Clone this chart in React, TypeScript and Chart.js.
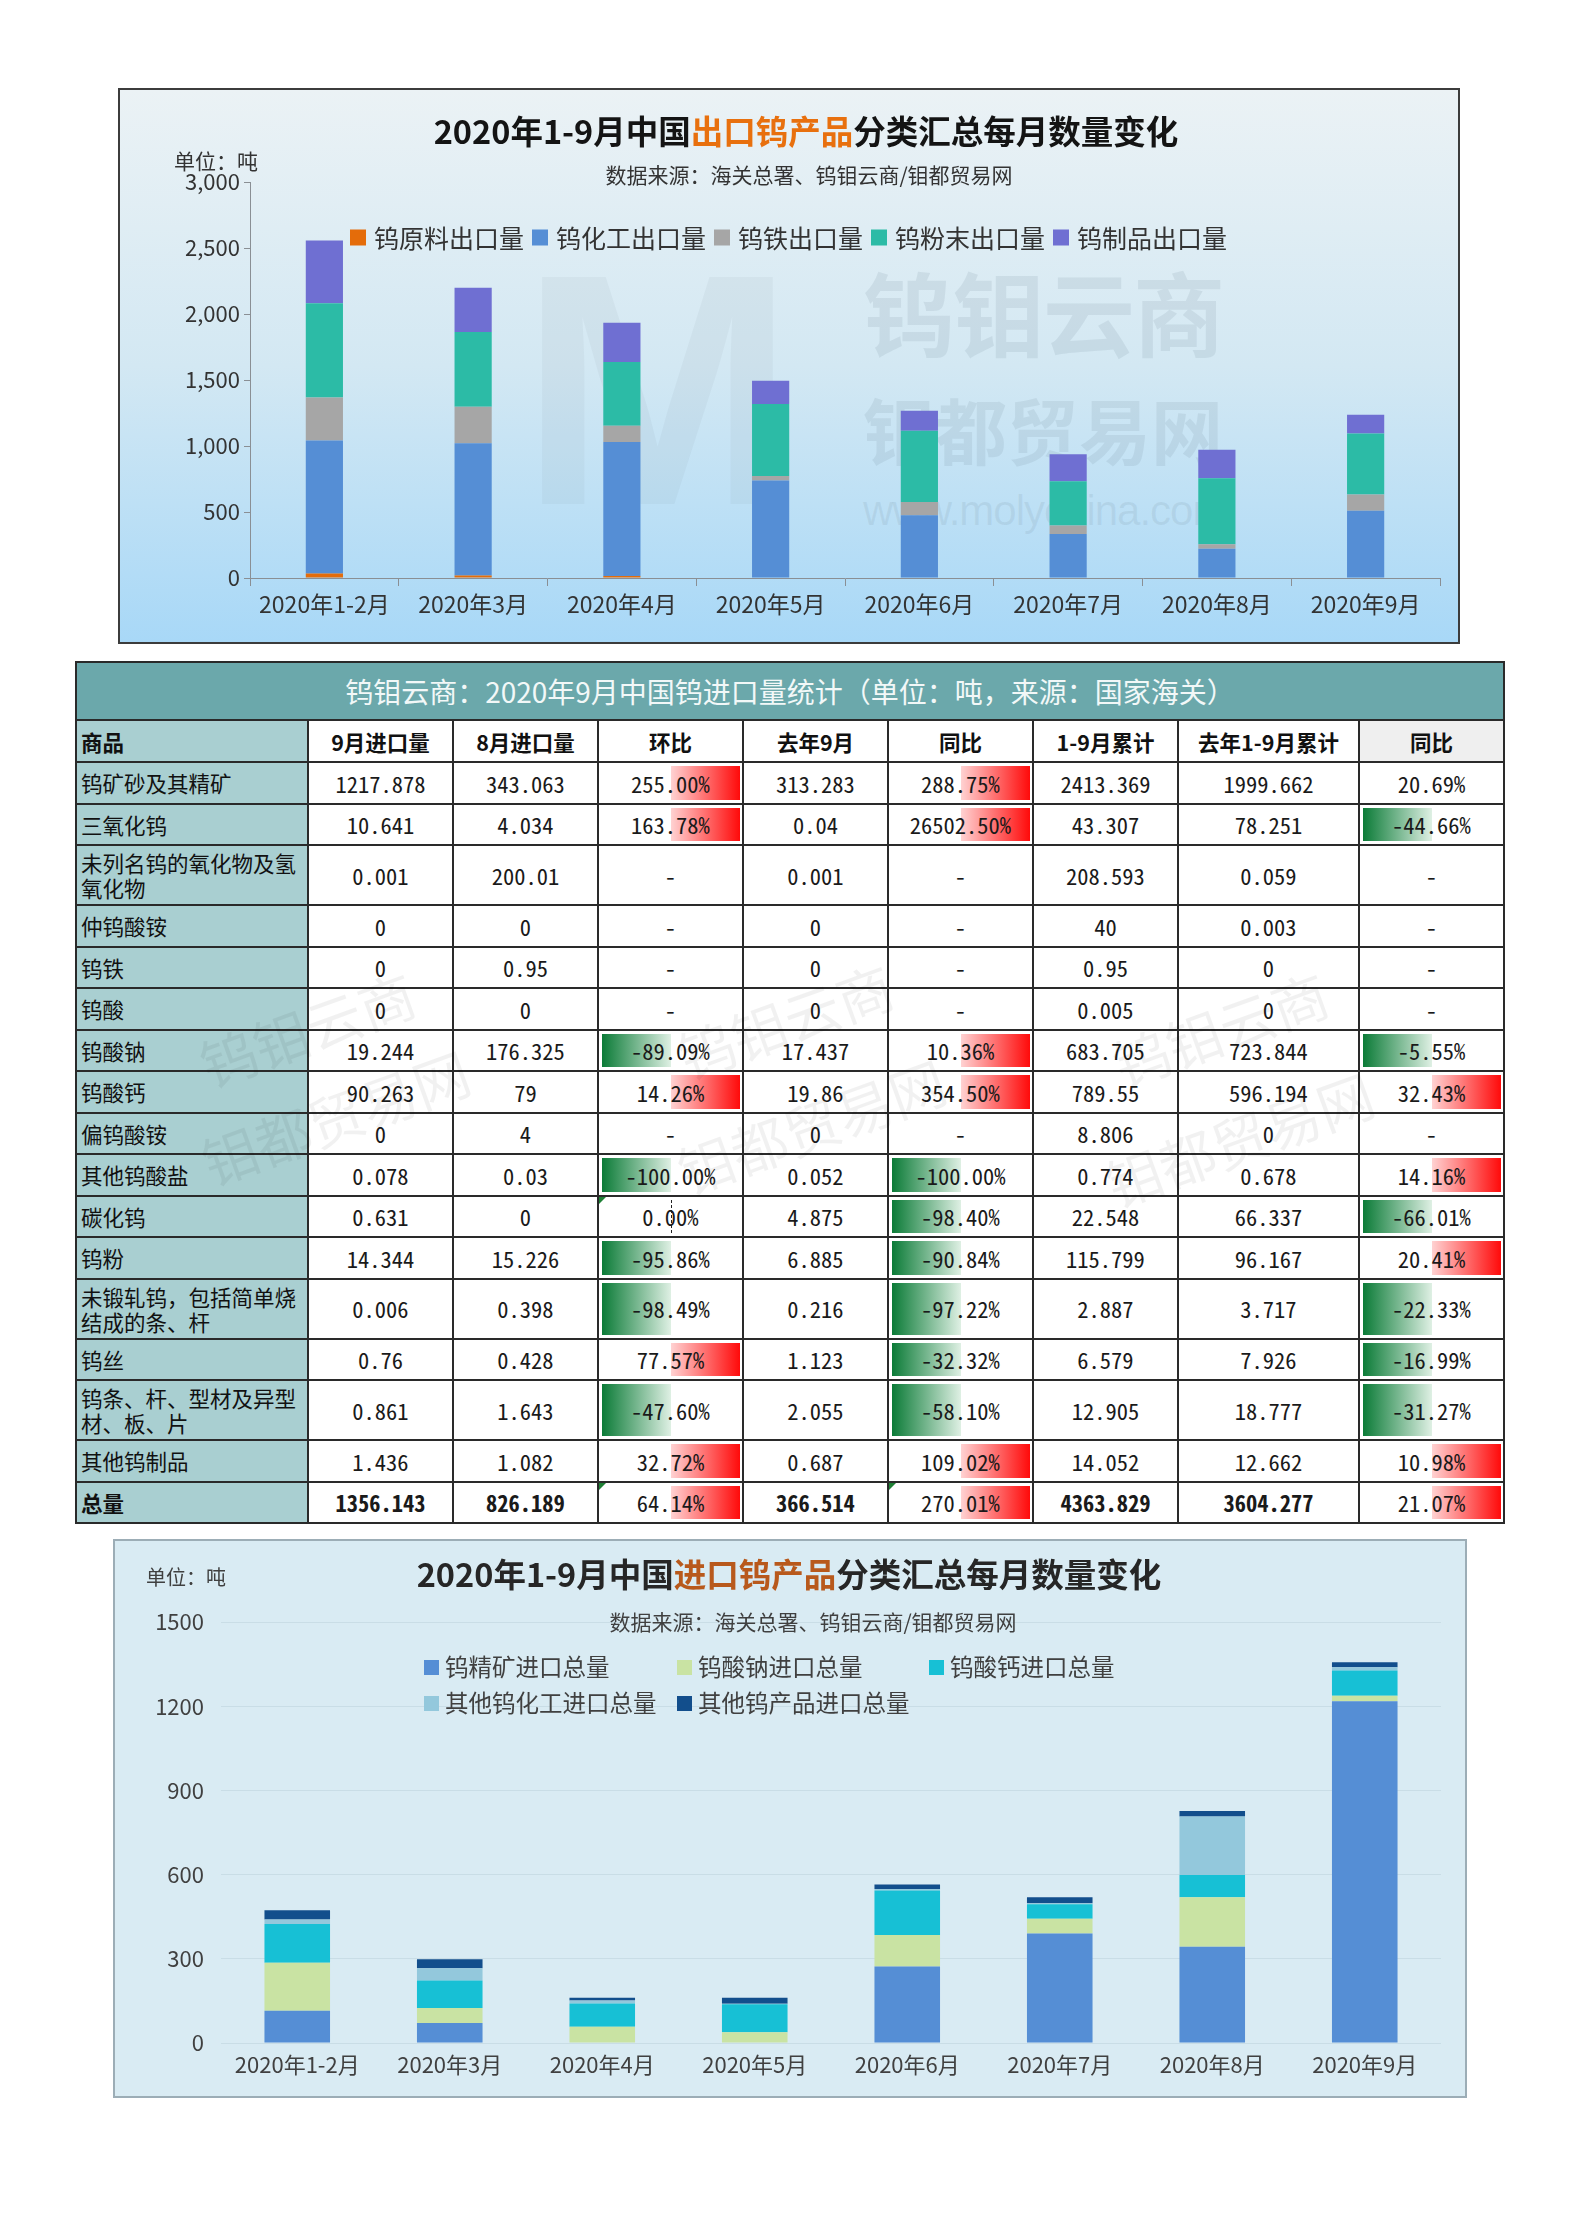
import React, { useEffect, useRef } from 'react';
import { Chart, registerables } from 'chart.js';

Chart.register(...registerables);

const CJK = '"Noto Sans CJK SC", "Noto Sans", sans-serif';
const MONO = '"Noto Sans Mono CJK SC", "Liberation Mono", monospace';
Chart.defaults.font.family = CJK;

// ---------- export chart data ----------
const exportMonths = ['2020年1-2月', '2020年3月', '2020年4月', '2020年5月', '2020年6月', '2020年7月', '2020年8月', '2020年9月'];
const exportRawMaterial = [34, 18, 16, 0, 0, 0, 0, 0];
const exportChemicals = [1007, 1003, 1014, 739, 476, 333, 221, 509];
const exportFerroTungsten = [327, 277, 123, 33, 100, 64, 34, 123];
const exportPowder = [714, 565, 484, 546, 540, 336, 500, 462];
const exportProducts = [475, 336, 296, 176, 151, 204, 216, 143];
const exportSeriesNames = ['钨原料出口量', '钨化工出口量', '钨铁出口量', '钨粉末出口量', '钨制品出口量'];
const exportColors = ['#e46c0a', '#558ed5', '#a6a6a6', '#2cbba6', '#6f6fd2'];
const exportYTicks = [0, 500, 1000, 1500, 2000, 2500, 3000];

// ---------- import chart data ----------
const importMonths = ['2020年1-2月', '2020年3月', '2020年4月', '2020年5月', '2020年6月', '2020年7月', '2020年8月', '2020年9月'];
const importConcentrate = [115, 71, 0, 0, 273, 390, 343.063, 1217.878];
const importSodium = [171, 54, 58, 38, 112, 53, 176.325, 19.244];
const importCalcium = [138, 98, 83, 100, 158, 51, 79, 90.263];
const importOtherChem = [16, 43, 10, 2, 6, 4, 209, 11.4];
const importOtherProducts = [33, 32, 10, 21, 16, 21, 18.8, 17.4];
const importSeriesNames = ['钨精矿进口总量', '钨酸钠进口总量', '钨酸钙进口总量', '其他钨化工进口总量', '其他钨产品进口总量'];
const importColors = ['#558ed5', '#c9e3a3', '#17c0d5', '#93c8dc', '#124e8c'];
const importYTicks = [0, 300, 600, 900, 1200, 1500];

// ---------- table data ----------
const tableTitle = '钨钼云商：2020年9月中国钨进口量统计（单位：吨，来源：国家海关）';
const tableHeaders = ['商品', '9月进口量', '8月进口量', '环比', '去年9月', '同比', '1-9月累计', '去年1-9月累计', '同比'];
const tableNames = ['钨矿砂及其精矿', '三氧化钨', '未列名钨的氧化物及氢\n氧化物', '仲钨酸铵', '钨铁', '钨酸', '钨酸钠', '钨酸钙', '偏钨酸铵', '其他钨酸盐', '碳化钨', '钨粉', '未锻轧钨，包括简单烧\n结成的条、杆', '钨丝', '钨条、杆、型材及异型\n材、板、片', '其他钨制品', '总量'];
const sepImport = ['1217.878', '10.641', '0.001', '0', '0', '0', '19.244', '90.263', '0', '0.078', '0.631', '14.344', '0.006', '0.76', '0.861', '1.436', '1356.143'];
const augImport = ['343.063', '4.034', '200.01', '0', '0.95', '0', '176.325', '79', '4', '0.03', '0', '15.226', '0.398', '0.428', '1.643', '1.082', '826.189'];
const momChange = ['255.00%', '163.78%', '-', '-', '-', '-', '-89.09%', '14.26%', '-', '-100.00%', '0.00%', '-95.86%', '-98.49%', '77.57%', '-47.60%', '32.72%', '64.14%'];
const lastSepImport = ['313.283', '0.04', '0.001', '0', '0', '0', '17.437', '19.86', '0', '0.052', '4.875', '6.885', '0.216', '1.123', '2.055', '0.687', '366.514'];
const yoyChange = ['288.75%', '26502.50%', '-', '-', '-', '-', '10.36%', '354.50%', '-', '-100.00%', '-98.40%', '-90.84%', '-97.22%', '-32.32%', '-58.10%', '109.02%', '270.01%'];
const ytdImport = ['2413.369', '43.307', '208.593', '40', '0.95', '0.005', '683.705', '789.55', '8.806', '0.774', '22.548', '115.799', '2.887', '6.579', '12.905', '14.052', '4363.829'];
const lastYtdImport = ['1999.662', '78.251', '0.059', '0.003', '0', '0', '723.844', '596.194', '0', '0.678', '66.337', '96.167', '3.717', '7.926', '18.777', '12.662', '3604.277'];
const ytdYoyChange = ['20.69%', '-44.66%', '-', '-', '-', '-', '-5.55%', '32.43%', '-', '14.16%', '-66.01%', '20.41%', '-22.33%', '-16.99%', '-31.27%', '10.98%', '21.07%'];
const plainPctCells = [[0, 8]];
const flaggedCells = [[10, 3], [16, 3], [16, 5]];
const tableWatermarks = ['钨钼云商', '钼都贸易网'];

type TxtProps = { x: number; y: number; size: number; color: string; weight?: number; align?: string; children: any; family?: string; extra?: any; rotate?: number };
function Txt({ x, y, size, color, weight = 400, align = 'center', children, family = CJK, extra = {}, rotate = 0 }: TxtProps) {
  return (
    <div
      style={{
        position: 'absolute', left: x, top: y,
        transform: (align === 'center' ? 'translate(-50%,-50%)' : 'translate(0,-50%)') + (rotate ? ` rotate(${rotate}deg)` : ''),
        fontFamily: family, fontSize: size, fontWeight: weight, color, whiteSpace: 'nowrap', lineHeight: 1, pointerEvents: 'none', ...extra,
      }}
    >
      {children}
    </div>
  );
}

function Legend({ names, colors, box, gap, size, color }: any) {
  return names.map((n: string, i: number) => (
    <div key={n} style={{ display: 'flex', alignItems: 'center' }}>
      <span style={{ display: 'inline-block', width: box, height: box, background: colors[i], marginRight: gap }} />
      <span style={{ fontFamily: CJK, fontSize: size, color, lineHeight: 1, whiteSpace: 'nowrap' }}>{n}</span>
    </div>
  ));
}

function ExportChart() {
  const ref = useRef<HTMLCanvasElement>(null);
  useEffect(() => {
    const series = [exportRawMaterial, exportChemicals, exportFerroTungsten, exportPowder, exportProducts];
    const chart = new Chart(ref.current as HTMLCanvasElement, {
      type: 'bar',
      data: {
        labels: exportMonths,
        datasets: series.map((d, i) => ({
          label: exportSeriesNames[i], data: d, backgroundColor: exportColors[i], borderWidth: 0,
          barPercentage: 0.25, categoryPercentage: 1,
        })),
      },
      options: {
        responsive: false, animation: false, devicePixelRatio: 1,
        layout: { padding: { left: 0, top: 92, right: 18, bottom: 0 } },
        plugins: { legend: { display: false }, tooltip: { enabled: false }, title: { display: false } },
        scales: {
          x: {
            stacked: true,
            grid: { display: true, drawOnChartArea: false, drawTicks: true, tickLength: 8, color: '#8a8f94', offset: true },
            border: { display: true, color: '#8a8f94' },
            ticks: { font: { size: 23, family: CJK }, color: '#333333', padding: 4 },
            afterFit: (s: any) => { s.height = 64; },
          },
          y: {
            stacked: true, min: exportYTicks[0], max: exportYTicks[exportYTicks.length - 1],
            ticks: {
              stepSize: exportYTicks[1] - exportYTicks[0], font: { size: 22, family: CJK }, color: '#333333', padding: 4,
              callback: (v: any) => Number(v).toLocaleString('en-US'),
            },
            grid: { drawOnChartArea: false, drawTicks: true, tickLength: 6, color: '#8a8f94' },
            border: { display: true, color: '#8a8f94' },
            afterFit: (s: any) => { s.width = 130; },
          },
        },
      },
    });
    return () => chart.destroy();
  }, []);
  return (
    <div style={{ position: 'absolute', left: 118, top: 88, width: 1342, height: 556, boxSizing: 'border-box', border: '2px solid #3c3c3c', background: 'linear-gradient(to bottom, #ebf2f5 0%, #d3e8f3 50%, #a8d8f7 100%)', overflow: 'hidden' }}>
      <Txt x={400} y={300} size={330} color="rgba(110,130,145,0.07)" weight={700} align="left" family='"Liberation Sans", sans-serif'>M</Txt>
      <Txt x={743} y={220} size={92} color="rgba(100,125,140,0.13)" weight={700} align="left" extra={{ letterSpacing: -2 }}>钨钼云商</Txt>
      <Txt x={743} y={338} size={72} color="rgba(100,125,140,0.13)" weight={700} align="left">钼都贸易网</Txt>
      <Txt x={743} y={421} size={42} color="rgba(100,125,140,0.12)" align="left" family='"Liberation Sans Narrow", "Liberation Sans", sans-serif' extra={{ letterSpacing: -1 }}>www.molychina.com</Txt>
      <canvas ref={ref} width={1338} height={552} style={{ position: 'absolute', left: 0, top: 0, width: 1338, height: 552 }} />
      <Txt x={686} y={40} size={32.5} color="#141414" weight={700}>
        2020年1-9月中国<span style={{ color: '#e8700e' }}>出口钨产品</span>分类汇总每月数量变化
      </Txt>
      <Txt x={689} y={84} size={21} color="#333333">数据来源：海关总署、钨钼云商/钼都贸易网</Txt>
      <Txt x={54} y={70} size={21} color="#333333" align="left">单位：吨</Txt>
      <div style={{ position: 'absolute', left: 230, top: 147, transform: 'translateY(-50%)', display: 'flex', gap: 8 }}>
        <Legend names={exportSeriesNames} colors={exportColors} box={16} gap={8} size={25} color="#333333" />
      </div>
    </div>
  );
}

function ImportChart() {
  const ref = useRef<HTMLCanvasElement>(null);
  useEffect(() => {
    const series = [importConcentrate, importSodium, importCalcium, importOtherChem, importOtherProducts];
    const chart = new Chart(ref.current as HTMLCanvasElement, {
      type: 'bar',
      data: {
        labels: importMonths,
        datasets: series.map((d, i) => ({
          label: importSeriesNames[i], data: d, backgroundColor: importColors[i], borderWidth: 0,
          barPercentage: 0.43, categoryPercentage: 1,
        })),
      },
      options: {
        responsive: false, animation: false, devicePixelRatio: 1,
        layout: { padding: { left: 0, top: 81, right: 24, bottom: 0 } },
        plugins: { legend: { display: false }, tooltip: { enabled: false }, title: { display: false } },
        scales: {
          x: {
            stacked: true,
            grid: { display: false, drawTicks: false },
            border: { display: false },
            ticks: { font: { size: 22, family: CJK }, color: '#404040', padding: 8 },
            afterFit: (s: any) => { s.height = 53; },
          },
          y: {
            stacked: true, min: importYTicks[0], max: importYTicks[importYTicks.length - 1],
            ticks: {
              stepSize: importYTicks[1] - importYTicks[0], font: { size: 22, family: CJK }, color: '#404040', padding: 17,
              callback: (v: any) => String(v),
            },
            grid: { drawTicks: false, color: '#c9dde6', lineWidth: 1 },
            border: { display: false },
            afterFit: (s: any) => { s.width = 106; },
          },
        },
      },
    });
    return () => chart.destroy();
  }, []);
  return (
    <div style={{ position: 'absolute', left: 113, top: 1539, width: 1354, height: 559, boxSizing: 'border-box', border: '2px solid #9cadb6', background: '#d9ebf3', overflow: 'hidden' }}>
      <canvas ref={ref} width={1350} height={555} style={{ position: 'absolute', left: 0, top: 0, width: 1350, height: 555 }} />
      <Txt x={674} y={32} size={32.5} color="#262626" weight={700}>
        2020年1-9月中国<span style={{ color: '#b8591c' }}>进口钨产品</span>分类汇总每月数量变化
      </Txt>
      <Txt x={31} y={36} size={20} color="#404040" align="left">单位：吨</Txt>
      <Txt x={698} y={80} size={21} color="#404040">数据来源：海关总署、钨钼云商/钼都贸易网</Txt>
      <div style={{ position: 'absolute', left: 309, top: 126 - 18, display: 'grid', gridTemplateColumns: '253px 252px 252px', gridAutoRows: '36px', alignItems: 'center' }}>
        <Legend names={importSeriesNames} colors={importColors} box={15} gap={6} size={23.5} color="#404040" />
      </div>
    </div>
  );
}

function DataTable() {
  const colW = [230, 143, 143, 143, 143, 143, 143, 179, 143];
  const kinds = ['name', 'num', 'num', 'pct', 'num', 'pct', 'num', 'num', 'pct'];
  const cols = [tableNames, sepImport, augImport, momChange, lastSepImport, yoyChange, ytdImport, lastYtdImport, ytdYoyChange];
  const rowH = tableNames.map((n) => (n.includes('\n') ? 58 : 39.5));
  const last = tableNames.length - 1;
  const cells: any[] = [];
  tableNames.forEach((_, r) => {
    cols.forEach((col, c) => {
      const v = col[r];
      const kind = kinds[c];
      const bold = r === last && kind !== 'pct';
      const key = `${r}-${c}`;
      if (kind === 'name') {
        cells.push(
          <div key={key} style={{ background: '#a9cfd1', display: 'flex', alignItems: 'center', paddingLeft: 4, fontFamily: CJK, fontSize: 21.5, lineHeight: '25px', color: '#111', whiteSpace: 'pre-line', fontWeight: bold ? 700 : 400 }}>{v}</div>
        );
        return;
      }
      const num = parseFloat(v);
      const plain = plainPctCells.some(([pr, pc]) => pr === r && pc === c);
      const flagged = flaggedCells.some(([pr, pc]) => pr === r && pc === c);
      const showBar = kind === 'pct' && !isNaN(num) && !plain;
      cells.push(
        <div key={key} style={{ background: '#ffffff', position: 'relative', display: 'flex', alignItems: 'center', justifyContent: 'center' }}>
          {showBar && num > 0 && <div style={{ position: 'absolute', left: '50%', right: 2, top: 3, bottom: 3, background: 'linear-gradient(to right, #ffd2d2, #ff0a0a)' }} />}
          {showBar && num < 0 && <div style={{ position: 'absolute', left: 3, right: '50%', top: 3, bottom: 3, background: 'linear-gradient(to right, #0b7b37, #dff0e4)' }} />}
          {showBar && num === 0 && <div style={{ position: 'absolute', left: '50%', top: 3, bottom: 3, borderLeft: '1.5px dashed #222' }} />}
          {flagged && <div style={{ position: 'absolute', left: 0, top: 0, width: 0, height: 0, borderTop: '7px solid #1e8035', borderRight: '7px solid transparent' }} />}
          <span style={{ position: 'relative', fontFamily: MONO, fontSize: 22.5, color: '#1a1a1a', fontWeight: bold ? 700 : 400, lineHeight: 1, whiteSpace: 'nowrap' }}>{v}</span>
        </div>
      );
    });
  });
  const marks = [
    [307, 1028], [335, 1116], [785, 1020], [811, 1125], [1220, 1028], [1239, 1138],
  ];
  return (
    <>
      <div
        style={{
          position: 'absolute', left: 75, top: 661, width: 1430, boxSizing: 'border-box', display: 'grid',
          gridTemplateColumns: colW.map((w) => w + 'px').join(' '),
          gridTemplateRows: ['56px', '40px', ...rowH.map((h) => h + 'px')].join(' '),
          gap: 2, padding: 2, background: '#2a2a2a',
        }}
      >
        <div style={{ gridColumn: '1 / -1', background: '#6ba8ab', display: 'flex', alignItems: 'center', justifyContent: 'center', fontFamily: CJK, fontSize: 28, color: '#f2f8f8', whiteSpace: 'nowrap' }}>{tableTitle}</div>
        {tableHeaders.map((h, i) => (
          <div key={'h' + i} style={{ background: i === 0 ? '#a9cfd1' : i === 8 ? '#efefef' : '#ffffff', display: 'flex', alignItems: 'center', justifyContent: i === 0 ? 'flex-start' : 'center', paddingLeft: i === 0 ? 4 : 0, fontFamily: CJK, fontSize: 21.5, fontWeight: 700, color: '#111', whiteSpace: 'nowrap' }}>{h}</div>
        ))}
        {cells}
      </div>
      {marks.map(([x, y], i) => (
        <Txt key={'wm' + i} x={x} y={y} size={56} color="rgba(0,0,0,0.055)" rotate={-20}>{tableWatermarks[i % 2]}</Txt>
      ))}
    </>
  );
}

export default function App() {
  return (
    <div style={{ position: 'absolute', left: 0, top: 0, width: 1580, height: 2237, background: '#ffffff', overflow: 'hidden' }}>
      <ExportChart />
      <DataTable />
      <ImportChart />
    </div>
  );
}
